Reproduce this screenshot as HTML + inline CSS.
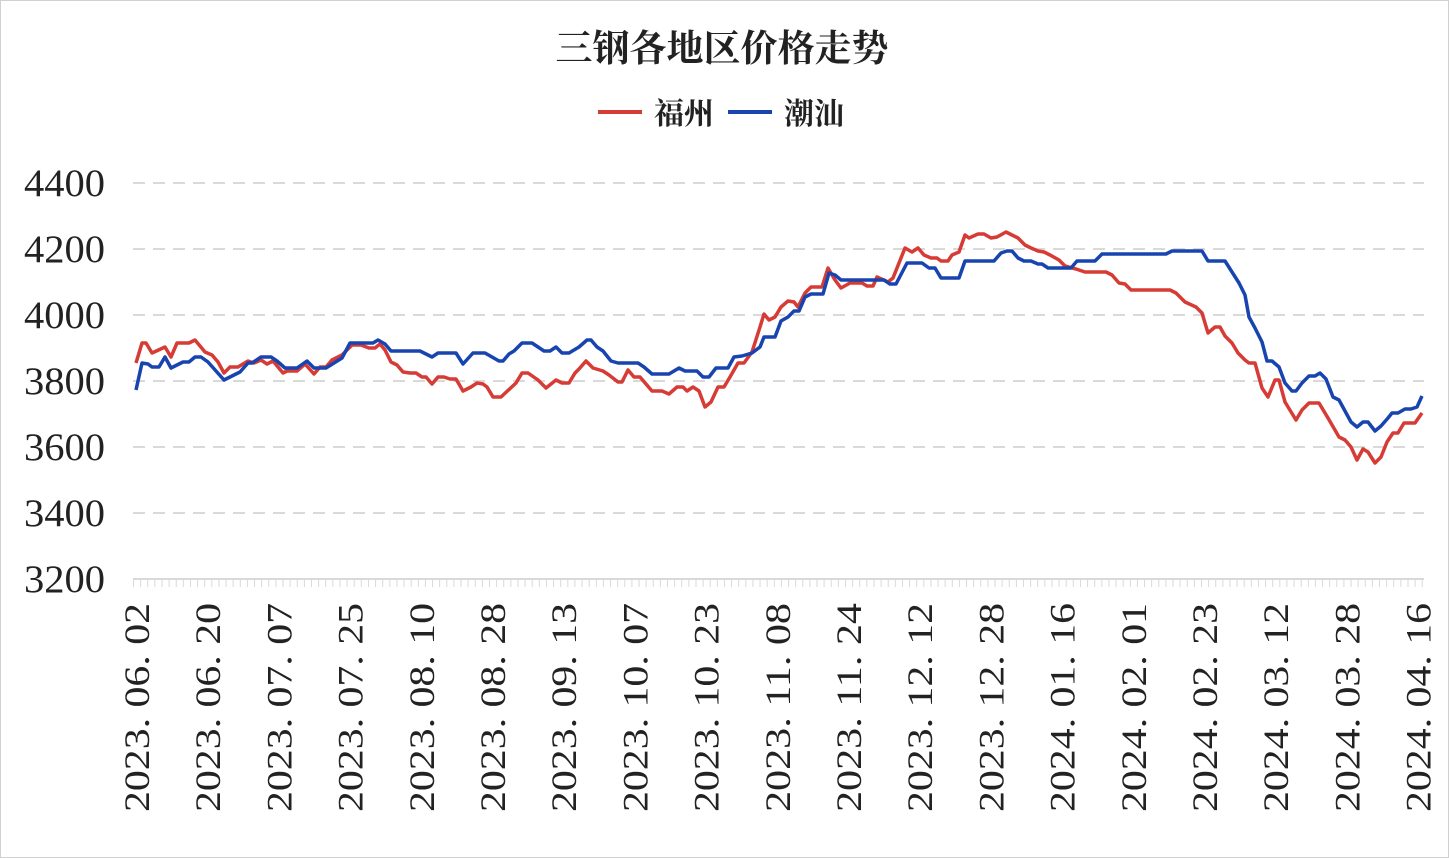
<!DOCTYPE html>
<html><head><meta charset="utf-8"><style>body{margin:0;background:#fff}svg{display:block}</style></head><body>
<svg width="1449" height="858" xmlns="http://www.w3.org/2000/svg" font-family="'Liberation Serif','Noto Serif CJK SC',serif">
<defs>
<pattern id="tp" x="133" y="579" width="7.12" height="10" patternUnits="userSpaceOnUse">
<line x1="0.5" y1="0" x2="0.5" y2="8" stroke="#d9d9d9" stroke-width="1"/>
</pattern>
</defs>
<rect x="0.5" y="0.5" width="1448" height="857" fill="#fff" stroke="#d0d0d0"/>
<text x="722" y="61" font-size="37" font-weight="bold" text-anchor="middle" fill="#222">三钢各地区价格走势</text>
<line x1="598" y1="112" x2="642" y2="112" stroke="#d63b35" stroke-width="4"/>
<text x="654" y="124" font-size="30" font-weight="bold" fill="#222">福州</text>
<line x1="728" y1="112" x2="772" y2="112" stroke="#1844b0" stroke-width="4"/>
<text x="784" y="124" font-size="30" font-weight="bold" fill="#222">潮汕</text>
<g stroke="#d9d9d9" stroke-width="2" stroke-dasharray="12,8">
<line x1="133" y1="183" x2="1424" y2="183"/><line x1="133" y1="249" x2="1424" y2="249"/><line x1="133" y1="315" x2="1424" y2="315"/><line x1="133" y1="381" x2="1424" y2="381"/><line x1="133" y1="447" x2="1424" y2="447"/><line x1="133" y1="513" x2="1424" y2="513"/>
</g>
<rect x="133" y="579" width="1293" height="8" fill="url(#tp)"/>
<line x1="133" y1="579" x2="1424" y2="579" stroke="#d9d9d9" stroke-width="2"/>
<g font-size="39" text-anchor="end" fill="#222">
<text x="105" y="196" textLength="81" lengthAdjust="spacingAndGlyphs">4400</text><text x="105" y="262" textLength="81" lengthAdjust="spacingAndGlyphs">4200</text><text x="105" y="328" textLength="81" lengthAdjust="spacingAndGlyphs">4000</text><text x="105" y="394" textLength="81" lengthAdjust="spacingAndGlyphs">3800</text><text x="105" y="460" textLength="81" lengthAdjust="spacingAndGlyphs">3600</text><text x="105" y="526" textLength="81" lengthAdjust="spacingAndGlyphs">3400</text><text x="105" y="592" textLength="81" lengthAdjust="spacingAndGlyphs">3200</text>
</g>
<g font-size="36" fill="#222" text-anchor="end">
<text transform="translate(149,603) rotate(-90)" textLength="209" lengthAdjust="spacingAndGlyphs">2023. 06. 02</text>
<text transform="translate(220.2,603) rotate(-90)" textLength="209" lengthAdjust="spacingAndGlyphs">2023. 06. 20</text>
<text transform="translate(291.4,603) rotate(-90)" textLength="209" lengthAdjust="spacingAndGlyphs">2023. 07. 07</text>
<text transform="translate(362.6,603) rotate(-90)" textLength="209" lengthAdjust="spacingAndGlyphs">2023. 07. 25</text>
<text transform="translate(433.8,603) rotate(-90)" textLength="209" lengthAdjust="spacingAndGlyphs">2023. 08. 10</text>
<text transform="translate(505,603) rotate(-90)" textLength="209" lengthAdjust="spacingAndGlyphs">2023. 08. 28</text>
<text transform="translate(576.2,603) rotate(-90)" textLength="209" lengthAdjust="spacingAndGlyphs">2023. 09. 13</text>
<text transform="translate(647.4,603) rotate(-90)" textLength="209" lengthAdjust="spacingAndGlyphs">2023. 10. 07</text>
<text transform="translate(718.6,603) rotate(-90)" textLength="209" lengthAdjust="spacingAndGlyphs">2023. 10. 23</text>
<text transform="translate(789.8,603) rotate(-90)" textLength="209" lengthAdjust="spacingAndGlyphs">2023. 11. 08</text>
<text transform="translate(861,603) rotate(-90)" textLength="209" lengthAdjust="spacingAndGlyphs">2023. 11. 24</text>
<text transform="translate(932.2,603) rotate(-90)" textLength="209" lengthAdjust="spacingAndGlyphs">2023. 12. 12</text>
<text transform="translate(1003.4,603) rotate(-90)" textLength="209" lengthAdjust="spacingAndGlyphs">2023. 12. 28</text>
<text transform="translate(1074.6,603) rotate(-90)" textLength="209" lengthAdjust="spacingAndGlyphs">2024. 01. 16</text>
<text transform="translate(1145.8,603) rotate(-90)" textLength="209" lengthAdjust="spacingAndGlyphs">2024. 02. 01</text>
<text transform="translate(1217,603) rotate(-90)" textLength="209" lengthAdjust="spacingAndGlyphs">2024. 02. 23</text>
<text transform="translate(1288.2,603) rotate(-90)" textLength="209" lengthAdjust="spacingAndGlyphs">2024. 03. 12</text>
<text transform="translate(1359.4,603) rotate(-90)" textLength="209" lengthAdjust="spacingAndGlyphs">2024. 03. 28</text>
<text transform="translate(1430.6,603) rotate(-90)" textLength="209" lengthAdjust="spacingAndGlyphs">2024. 04. 16</text>
</g>
<polyline fill="none" stroke="#d63b35" stroke-width="3.5" stroke-linejoin="round" points="136,363 142,343 146,343 152,353 165,347 171,357 177,343 189,343 195,340 205,352 212,355 218,362 224,373 230,367 238,367 248,361 254,363 261,360 267,364 273,361 283,373 287,371 297,371 305,364 314,374 320,367 326,367 332,360 342,355 352,345 361,345 369,348 375,348 380,344 385,350 391,362 397,365 403,372 410,373 416,373 422,377 426,377 432,384 438,377 444,377 450,379 456,379 463,391 471,387 477,383 483,384 487,387 493,397 501,397 516,383 522,373 528,373 538,380 546,388 556,380 562,383 569,383 575,373 579,369 586,361 593,368 603,371 609,375 618,382 622,382 628,370 634,377 640,377 652,391 662,391 669,394 677,387 683,387 687,391 693,387 699,391 705,407 711,402 718,387 724,387 730,377 738,363 744,363 752,352 760,327 764,314 769,320 775,317 781,307 788,301 794,302 798,307 805,293 811,287 822,287 828,268 835,280 841,288 850,283 862,283 867,286 873,286 877,277 888,282 893,278 905,248 912,252 918,248 924,255 931,258 937,258 941,261 948,261 952,255 959,252 965,235 969,238 978,234 984,234 991,238 997,237 1006,232 1012,235 1018,238 1025,245 1031,248 1038,251 1044,252 1050,255 1059,260 1065,266 1076,269 1085,272 1106,272 1112,275 1119,283 1125,284 1131,290 1170,290 1176,293 1185,302 1196,307 1202,313 1208,333 1215,327 1220,327 1225,336 1232,343 1238,353 1245,360 1249,363 1255,363 1262,388 1268,397 1275,380 1279,380 1285,402 1296,420 1302,410 1309,403 1319,403 1328,418 1339,437 1345,440 1351,447 1357,460 1363,449 1368,452 1375,463 1381,457 1387,442 1393,433 1398,433 1404,423 1415,423 1422,413"/>
<polyline fill="none" stroke="#1844b0" stroke-width="3.5" stroke-linejoin="round" points="136,390 142,363 148,364 152,367 159,367 165,357 171,368 183,362 189,362 195,357 201,357 208,362 224,380 240,372 248,363 252,363 261,357 271,357 277,361 285,368 297,368 307,361 314,368 326,368 334,363 342,358 350,343 373,343 378,340 385,344 391,351 420,351 432,357 438,353 456,353 463,364 473,353 485,353 499,361 503,361 509,354 514,351 522,343 532,343 544,351 550,351 556,347 562,353 569,353 579,347 587,340 591,340 597,347 603,351 611,361 618,363 638,363 644,367 652,374 669,374 679,368 685,371 697,371 703,377 709,377 716,368 728,368 734,357 742,356 752,353 760,347 764,337 775,337 781,321 788,317 794,311 799,311 805,297 811,294 823,294 829,273 835,275 841,280 884,280 890,284 896,284 907,263 922,263 929,268 935,268 941,278 959,278 965,261 994,261 1001,253 1007,251 1012,251 1018,258 1024,261 1031,261 1038,264 1042,264 1048,268 1071,268 1077,261 1095,261 1102,254 1166,254 1172,251 1202,251 1208,261 1225,261 1232,272 1239,283 1245,295 1249,317 1255,328 1262,342 1267,361 1272,361 1279,367 1285,383 1292,391 1296,391 1302,383 1309,376 1315,376 1320,373 1326,379 1333,397 1339,400 1345,411 1351,422 1357,427 1363,422 1368,422 1375,431 1381,426 1388,418 1392,413 1398,413 1405,409 1411,409 1417,407 1422,396"/>
</svg>
</body></html>
